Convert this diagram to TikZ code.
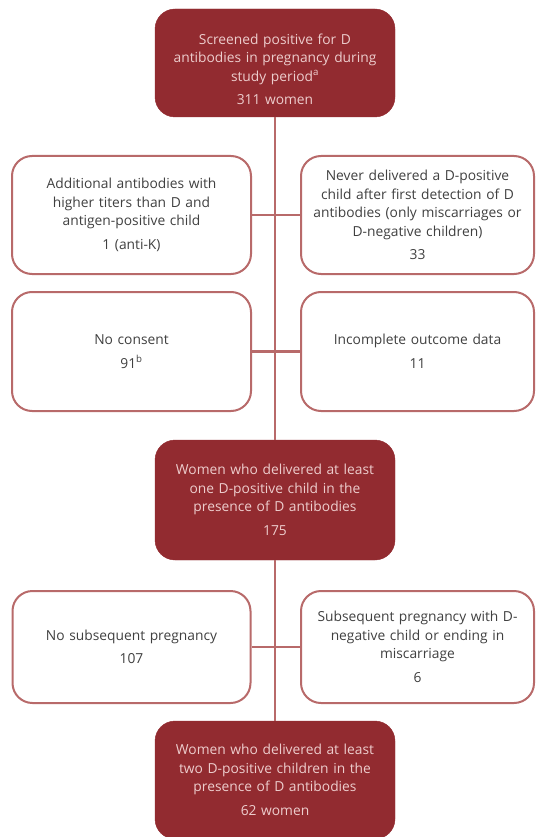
\documentclass[tikz,border=0pt]{standalone}
\usepackage{fontspec}
\setmainfont{Open Sans}
\definecolor{boxred}{HTML}{922B30}
\definecolor{edgered}{HTML}{B86A6A}
\definecolor{palepink}{HTML}{EDCDCD}
\definecolor{textgrey}{HTML}{404040}
\tikzset{
  stage/.style={fill=boxred, draw=boxred, rounded corners=20pt,
    minimum width=240pt, text width=230pt, align=center,
    text=palepink, font=\fontsize{13.8}{18.5}\selectfont},
  excl/.style={fill=white, draw=edgered, line width=2pt, rounded corners=20pt,
    text width=226pt, align=center,
    text=textgrey, font=\fontsize{13.8}{18.5}\selectfont},
  flow/.style={draw=edgered, line width=2.4pt}
}
\begin{document}
\begin{tikzpicture}[x=1pt, y=-1pt]
    \useasboundingbox (0,0) rectangle (535,837);

    % main stages
    \node [stage, minimum height=108pt] (screened) at (275,63)
          {\raisebox{0pt}[23pt]{Screened positive for D}\\antibodies in pregnancy during\\study period\textsuperscript{a}\\[5pt]311 women};
    \node [stage, minimum height=120pt] (onepos) at (275,500)
          {Women who delivered at least\\one D-positive child in the\\presence of D antibodies\\[5pt]175};
    \node [stage, minimum height=118pt] (twopos) at (275,780)
          {Women who delivered at least\\two D-positive children in the\\presence of D antibodies\\[5pt]62 women};

    % exclusions
    \node [excl, minimum width=239pt, minimum height=118pt] (extra) at (131.5,215)
          {Additional antibodies with\\higher titers than D and\\antigen-positive child\\[5pt]1 (anti-K)};
    \node [excl, minimum width=233pt, minimum height=118pt] (never) at (417.5,215)
          {Never delivered a D-positive\\child after first detection of D\\antibodies (only miscarriages or\\D-negative children)\\[5pt]33};
    \node [excl, minimum width=239pt, minimum height=119pt] (consent) at (131.5,351.5)
          {No consent\\[5pt]91\textsuperscript{b}};
    \node [excl, minimum width=233pt, minimum height=119pt] (incomplete) at (417.5,351.5)
          {Incomplete outcome data\\[5pt]11};
    \node [excl, minimum width=238pt, minimum height=112pt] (nosub) at (131.5,647)
          {No subsequent pregnancy\\[5pt]107};
    \node [excl, minimum width=233pt, minimum height=112pt] (subneg) at (417.5,647)
          {Subsequent pregnancy with D-\\negative child or ending in\\miscarriage\\[5pt]6};

    \draw [flow] (screened) -- (onepos);
    \draw [flow] (onepos) -- (twopos);
    \draw [flow] (extra) -- (never);
    \draw [flow] (consent) -- (incomplete);
    \draw [flow] (nosub) -- (subneg);
\end{tikzpicture}
\end{document}
